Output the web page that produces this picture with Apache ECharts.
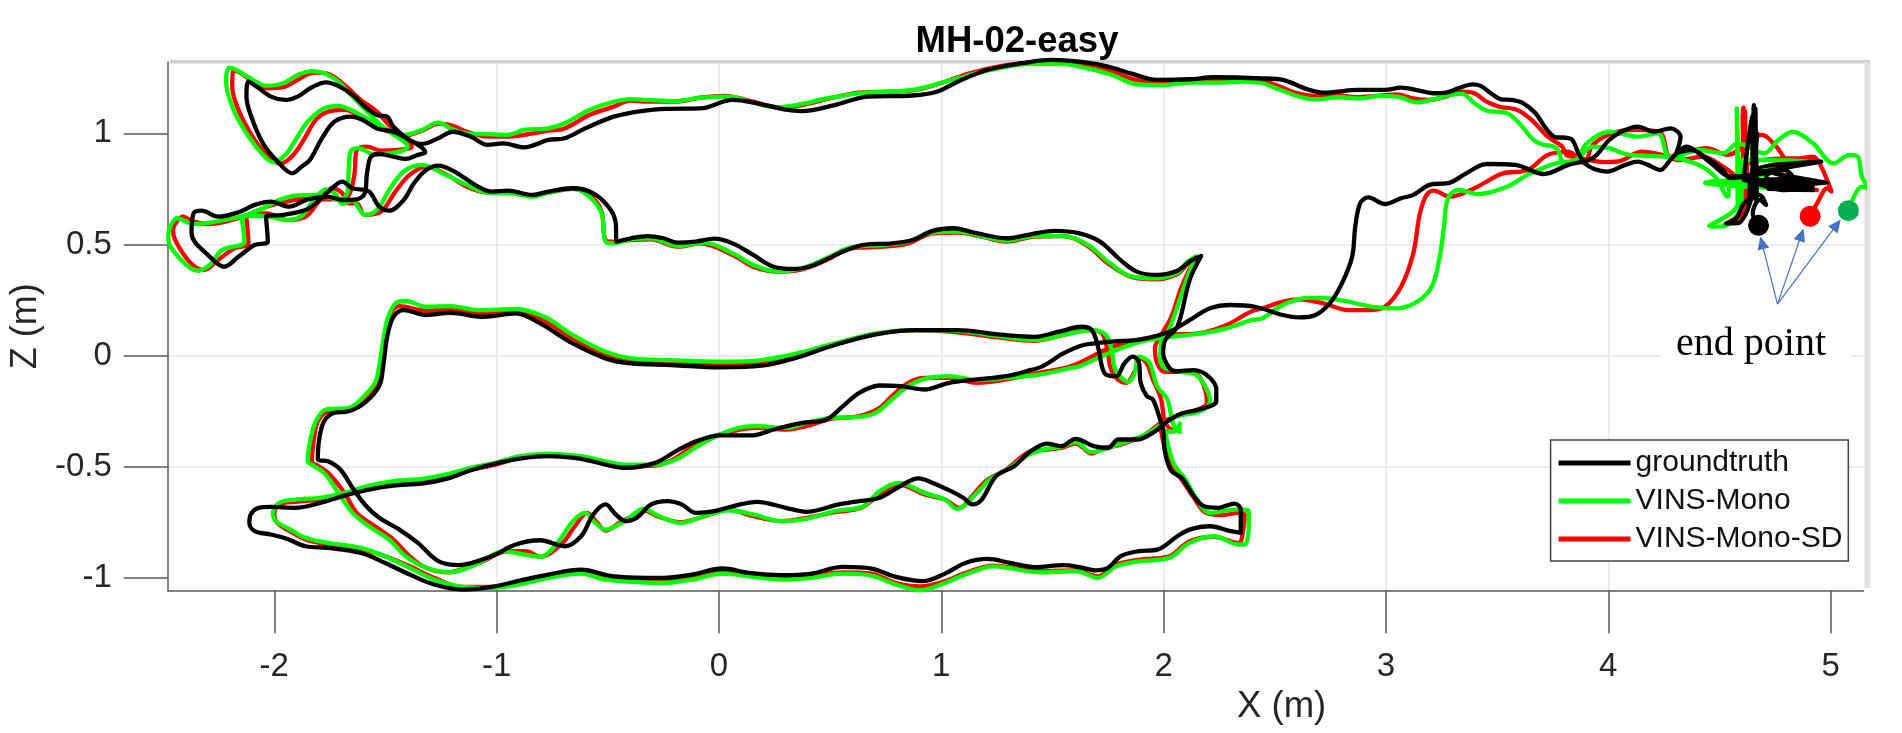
<!DOCTYPE html>
<html><head><meta charset="utf-8">
<style>html,body{margin:0;padding:0;background:#fff}#c{width:1902px;height:733px}</style>
<script src="https://cdn.jsdelivr.net/npm/echarts@6/dist/echarts.min.js"></script>
</head><body><div id="c"></div>
<script>
const xTicks=[-2,-1,0,1,2,3,4,5];
const zTicks=[-1,-0.5,0,0.5,1];
const seriesNames=['groundtruth','VINS-Mono','VINS-Mono-SD'];
const endX=[4.676,5.08,4.908];
const endZ=[0.586,0.652,0.627];
const arrowStart=[4.761,0.232];
const arrowEnds=[[4.691,0.508],[4.869,0.544],[5.028,0.589]];

const groundtruth=[[4.609,.79],[4.645,1.08],[4.65,.72],[4.655,1.127],[4.664,.70],[4.662,1.11],[4.668,.715],[4.652,1.12],[4.648,.72],[4.67,1.0],[4.646,.82],[4.958,.873],[4.673,.843],[4.985,.775],[4.7,.77],[4.98,.782],[4.609,.79],[4.921,.745],[4.72,.75],[4.9,.75],[4.646,.783],[4.829,.805],[4.793,.835],[4.70,.82],[4.554,.805],[4.462,.865],[4.407,.91],[4.352,.94],[4.316,.918],[4.279,.88],[4.233,.835],[4.178,.858],[4.132,.873],[4.077,.858],[3.994,.828],[3.94,.838],[3.894,.865],[3.866,.91],[3.839,.97],[3.811,.98],[3.765,.982],[3.72,1.022],[3.673,1.09],[3.618,1.135],[3.563,1.15],[3.517,1.153],[3.472,1.18],[3.426,1.213],[3.389,1.22],[3.325,1.202],[3.27,1.183],[3.215,1.18],[3.15,1.192],[3.068,1.205],[2.995,1.195],[2.875,1.195],[2.72,1.183],[2.647,1.198],[2.536,1.24],[2.444,1.247],[2.228,1.252],[2.117,1.243],[1.97,1.24],[1.861,1.267],[1.75,1.30],[1.622,1.322],[1.494,1.33],[1.365,1.315],[1.218,1.288],[1.09,1.24],[.98,1.187],[.87,1.17],[.668,1.165],[.521,1.127],[.374,1.10],[.292,1.108],[.172,1.135],[.062,1.15],[-.084,1.112],[-.231,1.11],[-.349,1.10],[-.473,1.075],[-.602,1.022],[-.694,.978],[-.767,.97],[-.877,.937],[-.969,.955],[-1.042,.948],[-1.116,.985],[-1.198,1.007],[-1.262,.978],[-1.336,.952],[-1.391,.97],[-1.464,1.03],[-1.492,1.075],[-1.538,1.082],[-1.593,1.12],[-1.648,1.172],[-1.712,1.213],[-1.767,1.229],[-1.831,1.207],[-1.895,1.165],[-1.95,1.15],[-2.015,1.165],[-2.079,1.21],[-2.116,1.232],[-2.125,1.165],[-2.106,1.082],[-2.051,.955],[-1.978,.865],[-1.919,.82],[-1.877,.85],[-1.84,.88],[-1.785,.978],[-1.73,1.052],[-1.657,1.075],[-1.602,1.06],[-1.538,1.022],[-1.464,1.007],[-1.391,.97],[-1.321,.915],[-1.354,.903],[-1.409,.885],[-1.464,.895],[-1.528,.907],[-1.565,.895],[-1.583,.82],[-1.593,.73],[-1.629,.703],[-1.694,.70],[-1.758,.715],[-1.85,.703],[-1.932,.67],[-2.015,.693],[-2.088,.678],[-2.161,.645],[-2.253,.625],[-2.327,.652],[-2.363,.64],[-2.372,.55],[-2.29,.445],[-2.226,.40],[-2.161,.445],[-2.088,.498],[-2.029,.513],[-2.037,.625],[-1.96,.633],[-1.859,.655],[-1.804,.693],[-1.749,.745],[-1.694,.783],[-1.648,.753],[-1.574,.738],[-1.528,.67],[-1.483,.652],[-1.418,.70],[-1.372,.775],[-1.317,.835],[-1.262,.855],[-1.189,.828],[-1.097,.768],[-1.024,.738],[-.95,.742],[-.84,.723],[-.767,.738],[-.657,.753],[-.565,.73],[-.492,.663],[-.464,.595],[-.461,.513],[-.396,.528],[-.323,.538],[-.25,.528],[-.186,.508],[-.103,.513],[-.02,.526],[.062,.505],[.154,.453],[.246,.40],[.338,.39],[.429,.408],[.539,.46],[.65,.498],[.778,.505],[.87,.52],[.961,.561],[1.053,.573],[1.163,.55],[1.292,.528],[1.402,.546],[1.512,.561],[1.622,.55],[1.714,.513],[1.806,.43],[1.879,.378],[1.971,.363],[2.062,.382],[2.117,.423],[2.169,.448],[2.117,.34],[2.062,.13],[2.007,.07],[1.998,.01],[2.026,-.055],[2.054,-.07],[2.136,-.065],[2.2,-.092],[2.237,-.152],[2.237,-.205],[2.173,-.239],[2.081,-.26],[2.007,-.302],[1.962,-.34],[1.879,-.377],[1.796,-.377],[1.75,-.415],[1.686,-.407],[1.604,-.374],[1.54,-.407],[1.475,-.395],[1.402,-.43],[1.328,-.497],[1.246,-.542],[1.182,-.647],[1.141,-.669],[1.099,-.639],[1.044,-.609],[.961,-.572],[.897,-.552],[.815,-.587],[.723,-.639],[.631,-.654],[.539,-.669],[.393,-.702],[.301,-.684],[.172,-.657],[.062,-.677],[-.02,-.699],[-.103,-.707],[-.167,-.669],[-.231,-.654],[-.305,-.669],[-.369,-.729],[-.418,-.744],[-.464,-.714],[-.51,-.669],[-.565,-.714],[-.62,-.812],[-.694,-.857],[-.804,-.83],[-.914,-.849],[-1.024,-.902],[-1.171,-.942],[-1.262,-.924],[-1.354,-.842],[-1.437,-.782],[-1.528,-.729],[-1.593,-.669],[-1.648,-.594],[-1.703,-.512],[-1.758,-.475],[-1.804,-.467],[-1.798,-.377],[-1.776,-.295],[-1.73,-.257],[-1.666,-.25],[-1.593,-.212],[-1.528,-.137],[-1.51,-.047],[-1.492,.085],[-1.464,.175],[-1.418,.205],[-1.317,.183],[-1.207,.193],[-1.061,.175],[-.914,.19],[-.804,.145],[-.657,.055],[-.51,-.012],[-.395,-.035],[-.213,-.042],[.007,-.052],[.191,-.045],[.338,-.012],[.521,.048],[.705,.096],[.888,.115],[1.072,.115],[1.255,.096],[1.42,.085],[1.53,.108],[1.631,.13],[1.677,.115],[1.705,.04],[1.723,-.05],[1.741,-.085],[1.787,-.092],[1.824,-.034],[1.861,-.004],[1.888,-.027],[1.897,-.122],[1.925,-.182],[1.952,-.197],[1.989,-.302],[1.998,-.332],[2.007,-.437],[2.035,-.519],[2.081,-.549],[2.136,-.632],[2.182,-.677],[2.246,-.684],[2.319,-.665],[2.347,-.692],[2.347,-.797],[2.301,-.789],[2.209,-.767],[2.117,-.782],[2.062,-.812],[1.971,-.872],[1.888,-.879],[1.806,-.902],[1.75,-.954],[1.695,-.965],[1.622,-.951],[1.549,-.942],[1.42,-.951],[1.31,-.932],[1.209,-.914],[1.108,-.932],[1.017,-.98],[.916,-1.014],[.796,-.995],[.686,-.957],[.558,-.95],[.411,-.981],[.283,-.987],[.136,-.977],[.017,-.957],[-.121,-.984],[-.25,-.999],[-.473,-.992],[-.62,-.962],[-.767,-.984],[-.877,-1.007],[-1.024,-1.04],[-1.152,-1.052],[-1.281,-1.029],[-1.391,-.984],[-1.501,-.932],[-1.611,-.887],[-1.758,-.864],[-1.859,-.857],[-1.941,-.824],[-2.015,-.804],[-2.088,-.789],[-2.112,-.752],[-2.106,-.714],[-2.07,-.684],[-2.015,-.68],[-1.905,-.684],[-1.794,-.662],[-1.684,-.629],[-1.574,-.602],[-1.464,-.584],[-1.336,-.575],[-1.226,-.554],[-1.116,-.515],[-1.006,-.485],[-.895,-.463],[-.767,-.452],[-.62,-.464],[-.51,-.49],[-.418,-.504],[-.286,-.482],[-.194,-.43],[-.103,-.385],[.007,-.358],[.154,-.358],[.246,-.332],[.374,-.302],[.484,-.287],[.558,-.227],[.631,-.167],[.723,-.134],[.815,-.137],[.925,-.152],[1.035,-.122],[1.163,-.107],[1.292,-.092],[1.383,-.07],[1.457,-.047],[1.549,.01],[1.64,.048],[1.769,.063],[1.897,.073],[2.026,.108],[2.117,.16],[2.209,.213],[2.301,.228],[2.411,.22],[2.536,.183],[2.609,.172],[2.683,.183],[2.747,.235],[2.802,.325],[2.848,.445],[2.862,.58],[2.884,.685],[2.921,.712],[2.995,.682],[3.068,.708],[3.123,.723],[3.196,.768],[3.288,.778],[3.361,.82],[3.453,.862],[3.582,.858],[3.71,.817],[3.82,.858],[3.93,.888],[4.004,.97],[4.059,1.007],[4.132,1.03],[4.206,1.007],[4.279,1.022],[4.325,.985],[4.306,.91],[4.371,.925],[4.444,.888],[4.517,.835],[4.546,.798],[4.77,.843],[4.71,.805],[4.92,.76],[4.784,.745],[4.636,.79],[4.636,.715],[4.605,.678],[4.576,.618],[4.531,.595],[4.583,.596],[4.62,.64],[4.65,.715],[4.68,.723],[4.71,.678],[4.68,.70],[4.65,.64],[4.672,.587]];

const vinsMono=[[4.582,.79],[4.578,1.112],[4.591,.685],[4.578,1.105],[4.582,.685],[4.453,.583],[4.508,.58],[4.6,.685],[4.6,.88],[4.903,.876],[4.646,.835],[4.811,.85],[4.646,.80],[4.435,.778],[4.738,.753],[4.884,.745],[4.554,.783],[4.536,.715],[4.481,.805],[4.389,.865],[4.251,.895],[4.169,.898],[4.077,.907],[4.004,.933],[3.93,.94],[3.857,.88],[3.802,.858],[3.774,.925],[3.747,.943],[3.71,.948],[3.664,.97],[3.6,1.045],[3.545,1.09],[3.453,1.102],[3.398,1.135],[3.343,1.177],[3.288,1.172],[3.215,1.153],[3.141,1.139],[3.05,1.165],[2.976,1.168],[2.884,1.157],[2.793,1.162],[2.683,1.153],[2.609,1.165],[2.517,1.198],[2.444,1.225],[2.356,1.232],[2.246,1.228],[2.136,1.228],[1.989,1.217],[1.879,1.22],[1.769,1.262],[1.659,1.292],[1.53,1.312],[1.402,1.312],[1.255,1.292],[1.127,1.262],[1.017,1.232],[.888,1.198],[.76,1.187],[.631,1.18],[.484,1.157],[.374,1.132],[.264,1.117],[.154,1.138],[.044,1.165],[-.084,1.16],[-.194,1.145],[-.323,1.15],[-.396,1.154],[-.473,1.142],[-.583,1.105],[-.694,1.045],[-.767,1.022],[-.877,1.015],[-.95,.993],[-1.042,.996],[-1.134,1.0],[-1.207,1.022],[-1.262,1.048],[-1.336,1.015],[-1.418,.993],[-1.501,1.022],[-1.574,1.09],[-1.648,1.165],[-1.721,1.24],[-1.776,1.27],[-1.831,1.28],[-1.895,1.262],[-1.96,1.225],[-2.033,1.213],[-2.106,1.247],[-2.171,1.285],[-2.202,1.295],[-2.217,1.24],[-2.189,1.12],[-2.125,1.0],[-2.051,.903],[-2.006,.87],[-1.95,.903],[-1.905,.97],[-1.85,1.052],[-1.776,1.112],[-1.712,1.123],[-1.648,1.102],[-1.574,1.06],[-1.483,1.007],[-1.4,.94],[-1.483,.91],[-1.556,.907],[-1.62,.933],[-1.657,.918],[-1.666,.82],[-1.67,.738],[-1.703,.70],[-1.813,.723],[-1.905,.72],[-1.978,.70],[-2.051,.663],[-2.143,.628],[-2.29,.598],[-2.363,.592],[-2.437,.618],[-2.473,.565],[-2.477,.528],[-2.418,.43],[-2.345,.382],[-2.29,.408],[-2.235,.475],[-2.134,.513],[-2.147,.625],[-2.051,.628],[-1.941,.61],[-1.877,.628],[-1.822,.70],[-1.767,.748],[-1.721,.723],[-1.694,.682],[-1.648,.70],[-1.62,.663],[-1.593,.633],[-1.538,.655],[-1.483,.745],[-1.418,.828],[-1.336,.858],[-1.244,.82],[-1.134,.768],[-1.042,.733],[-.932,.73],[-.84,.715],[-.767,.733],[-.657,.753],[-.583,.715],[-.528,.64],[-.51,.513],[-.473,.505],[-.396,.523],[-.305,.528],[-.185,.493],[-.066,.508],[.062,.46],[.154,.408],[.264,.378],[.374,.393],[.484,.438],[.594,.487],[.741,.498],[.851,.513],[.961,.555],[1.072,.558],[1.182,.538],[1.292,.517],[1.42,.538],[1.549,.538],[1.659,.498],[1.75,.423],[1.851,.358],[1.971,.348],[2.062,.373],[2.108,.423],[2.145,.445],[2.108,.355],[2.062,.22],[2.026,.123],[1.989,.055],[1.985,-.012],[1.998,-.05],[2.026,-.062],[2.081,-.074],[2.145,-.085],[2.191,-.145],[2.209,-.205],[2.163,-.25],[2.062,-.272],[1.989,-.31],[1.916,-.355],[1.806,-.395],[1.732,-.422],[1.677,-.434],[1.604,-.389],[1.54,-.41],[1.475,-.419],[1.393,-.445],[1.31,-.504],[1.218,-.557],[1.154,-.624],[1.072,-.689],[1.017,-.647],[.925,-.617],[.806,-.572],[.723,-.609],[.65,-.677],[.521,-.699],[.393,-.734],[.283,-.744],[.154,-.714],[.044,-.695],[-.066,-.722],[-.176,-.752],[-.268,-.722],[-.341,-.689],[-.354,-.692],[-.437,-.752],[-.51,-.782],[-.556,-.752],[-.602,-.707],[-.657,-.744],[-.721,-.834],[-.804,-.905],[-.877,-.894],[-.969,-.879],[-1.079,-.932],[-1.207,-.974],[-1.317,-.954],[-1.409,-.902],[-1.483,-.827],[-1.574,-.767],[-1.648,-.707],[-1.712,-.617],[-1.776,-.527],[-1.831,-.49],[-1.85,-.475],[-1.84,-.392],[-1.813,-.295],[-1.767,-.242],[-1.666,-.235],[-1.611,-.197],[-1.547,-.122],[-1.528,-.047],[-1.519,.01],[-1.492,.16],[-1.455,.235],[-1.409,.246],[-1.317,.22],[-1.207,.223],[-1.079,.205],[-.914,.21],[-.785,.175],[-.657,.093],[-.51,.018],[-.395,-.012],[-.213,-.02],[.007,-.027],[.191,-.02],[.338,.007],[.521,.055],[.705,.10],[.888,.115],[1.072,.112],[1.255,.088],[1.42,.07],[1.549,.093],[1.677,.115],[1.741,.093],[1.769,.01],[1.778,-.05],[1.796,-.085],[1.842,-.119],[1.87,-.077],[1.888,-.004],[1.934,-.027],[1.971,-.137],[2.017,-.197],[2.044,-.31],[2.072,-.343],[2.072,-.305],[2.053,-.34],[2.007,-.34],[2.044,-.482],[2.099,-.557],[2.145,-.639],[2.209,-.707],[2.319,-.692],[2.383,-.699],[2.383,-.767],[2.365,-.849],[2.338,-.849],[2.228,-.812],[2.117,-.842],[2.026,-.909],[1.897,-.924],[1.787,-.947],[1.705,-.999],[1.604,-.969],[1.439,-.974],[1.237,-.947],[1.108,-.984],[1.017,-1.022],[.906,-1.055],[.796,-1.029],[.686,-.989],[.558,-.98],[.411,-.999],[.283,-1.007],[.136,-.992],[.017,-.98],[-.121,-1.007],[-.25,-1.022],[-.51,-1.007],[-.62,-.98],[-.767,-.999],[-.877,-1.025],[-1.024,-1.044],[-1.152,-1.04],[-1.281,-1.007],[-1.391,-.954],[-1.501,-.902],[-1.611,-.864],[-1.758,-.842],[-1.859,-.819],[-1.941,-.774],[-1.993,-.744],[-2.006,-.707],[-1.978,-.662],[-1.905,-.647],[-1.794,-.639],[-1.684,-.617],[-1.574,-.584],[-1.464,-.564],[-1.336,-.554],[-1.226,-.534],[-1.116,-.504],[-1.006,-.482],[-.895,-.452],[-.767,-.44],[-.62,-.452],[-.51,-.475],[-.418,-.49],[-.286,-.49],[-.194,-.467],[-.084,-.4],[.062,-.332],[.172,-.317],[.301,-.325],[.393,-.302],[.503,-.28],[.631,-.275],[.705,-.257],[.778,-.197],[.851,-.137],[.925,-.104],[1.035,-.092],[1.163,-.11],[1.292,-.10],[1.439,-.085],[1.585,-.055],[1.622,-.047],[1.769,.018],[1.897,.063],[2.007,.082],[2.172,.10],[2.283,.123],[2.393,.16],[2.444,.168],[2.536,.228],[2.646,.26],[2.738,.258],[2.829,.243],[2.94,.22],[3.05,.213],[3.141,.243],[3.206,.31],[3.242,.445],[3.261,.58],[3.279,.708],[3.325,.745],[3.417,.726],[3.545,.76],[3.637,.813],[3.765,.865],[3.857,.883],[3.903,.955],[4.004,1.007],[4.132,.985],[4.224,1.0],[4.261,.91],[4.279,.888],[4.407,.925],[4.517,.91],[4.582,.955],[4.701,.91],[4.765,.97],[4.829,1.007],[4.921,.955],[5.013,.865],[5.086,.903],[5.123,.895],[5.141,.805],[5.178,.745],[5.141,.76],[5.08,.652]];

const vinsMonoSD=[[4.609,.79],[4.604,1.08],[4.61,.70],[4.609,1.117],[4.618,.685],[4.615,1.1],[4.606,.72],[4.606,1.112],[4.628,.70],[4.517,.583],[4.591,.625],[4.618,.70],[4.628,.865],[4.921,.888],[4.701,.843],[4.939,.775],[4.646,.783],[4.462,.783],[4.829,.753],[4.939,.745],[4.609,.79],[4.517,.85],[4.426,.895],[4.316,.88],[4.242,.903],[4.15,.918],[4.059,.877],[3.994,.87],[3.912,.88],[3.839,.895],[3.811,.903],[3.793,.94],[3.728,.985],[3.655,1.06],[3.591,1.105],[3.508,1.12],[3.453,1.142],[3.398,1.18],[3.343,1.187],[3.27,1.165],[3.196,1.15],[3.123,1.157],[3.05,1.175],[2.958,1.168],[2.866,1.162],[2.774,1.172],[2.683,1.168],[2.591,1.183],[2.517,1.213],[2.444,1.235],[2.356,1.24],[2.246,1.235],[2.136,1.235],[1.989,1.228],[1.879,1.24],[1.769,1.277],[1.659,1.304],[1.53,1.322],[1.402,1.319],[1.255,1.30],[1.127,1.27],[1.017,1.232],[.888,1.195],[.76,1.187],[.631,1.183],[.484,1.153],[.374,1.127],[.264,1.117],[.154,1.142],[.026,1.168],[-.084,1.16],[-.194,1.142],[-.323,1.142],[-.396,1.147],[-.473,1.12],[-.583,1.082],[-.694,1.022],[-.767,1.012],[-.877,.993],[-.95,.985],[-1.042,.985],[-1.134,1.007],[-1.207,1.037],[-1.262,1.042],[-1.336,1.012],[-1.418,.988],[-1.483,1.037],[-1.538,1.097],[-1.611,1.15],[-1.684,1.217],[-1.758,1.267],[-1.822,1.273],[-1.895,1.24],[-1.96,1.207],[-2.033,1.202],[-2.106,1.24],[-2.161,1.277],[-2.183,1.282],[-2.189,1.21],[-2.161,1.105],[-2.088,.97],[-2.015,.883],[-1.969,.865],[-1.914,.903],[-1.868,.97],[-1.813,1.06],[-1.758,1.097],[-1.684,1.105],[-1.611,1.075],[-1.528,1.022],[-1.446,.993],[-1.382,.94],[-1.446,.925],[-1.519,.922],[-1.583,.94],[-1.629,.925],[-1.639,.82],[-1.657,.738],[-1.684,.703],[-1.758,.703],[-1.85,.708],[-1.941,.693],[-2.033,.67],[-2.143,.625],[-2.29,.592],[-2.363,.603],[-2.409,.625],[-2.455,.565],[-2.446,.52],[-2.382,.423],[-2.317,.385],[-2.253,.43],[-2.18,.483],[-2.116,.505],[-2.125,.625],[-2.033,.64],[-1.941,.61],[-1.859,.625],[-1.794,.70],[-1.739,.753],[-1.694,.73],[-1.67,.685],[-1.629,.685],[-1.593,.633],[-1.519,.648],[-1.455,.738],[-1.391,.813],[-1.317,.85],[-1.235,.82],[-1.134,.76],[-1.042,.733],[-.932,.738],[-.84,.72],[-.767,.733],[-.657,.75],[-.574,.715],[-.528,.648],[-.51,.52],[-.473,.513],[-.396,.52],[-.305,.523],[-.185,.49],[-.084,.505],[.062,.453],[.154,.40],[.264,.378],[.374,.388],[.484,.43],[.594,.483],[.741,.49],[.851,.505],[.961,.55],[1.072,.553],[1.182,.535],[1.292,.513],[1.42,.535],[1.549,.538],[1.659,.493],[1.75,.415],[1.851,.355],[1.961,.343],[2.062,.367],[2.108,.415],[2.145,.445],[2.081,.31],[2.035,.175],[1.989,.093],[1.961,.033],[1.971,-.035],[2.007,-.073],[2.081,-.073],[2.145,-.08],[2.182,-.137],[2.195,-.212],[2.154,-.242],[2.062,-.269],[1.989,-.302],[1.916,-.355],[1.806,-.4],[1.732,-.415],[1.677,-.44],[1.604,-.395],[1.54,-.415],[1.475,-.422],[1.393,-.434],[1.292,-.512],[1.2,-.564],[1.145,-.624],[1.081,-.684],[1.017,-.647],[.925,-.624],[.806,-.579],[.723,-.624],[.64,-.684],[.521,-.704],[.393,-.729],[.283,-.744],[.154,-.722],[.044,-.692],[-.066,-.722],[-.176,-.749],[-.268,-.725],[-.341,-.695],[-.354,-.707],[-.437,-.744],[-.51,-.786],[-.547,-.752],[-.593,-.707],[-.648,-.767],[-.703,-.842],[-.804,-.905],[-.868,-.879],[-.95,-.879],[-1.079,-.932],[-1.226,-.974],[-1.317,-.954],[-1.391,-.902],[-1.464,-.827],[-1.547,-.767],[-1.629,-.707],[-1.684,-.617],[-1.758,-.527],[-1.813,-.49],[-1.831,-.482],[-1.822,-.377],[-1.804,-.295],[-1.758,-.25],[-1.666,-.239],[-1.602,-.205],[-1.538,-.13],[-1.519,-.047],[-1.505,.055],[-1.483,.175],[-1.437,.223],[-1.317,.202],[-1.207,.208],[-1.079,.19],[-.914,.198],[-.794,.16],[-.657,.078],[-.51,.003],[-.395,-.027],[-.213,-.034],[.007,-.042],[.191,-.034],[.338,-.004],[.521,.051],[.705,.097],[.888,.115],[1.072,.105],[1.255,.082],[1.42,.067],[1.549,.093],[1.659,.115],[1.723,.10],[1.75,.01],[1.76,-.05],[1.787,-.10],[1.833,-.122],[1.87,-.07],[1.897,-.012],[1.925,-.035],[1.952,-.107],[1.989,-.197],[2.007,-.302],[2.044,-.34],[1.989,-.34],[2.026,-.482],[2.081,-.557],[2.136,-.639],[2.191,-.707],[2.264,-.717],[2.338,-.707],[2.365,-.714],[2.356,-.797],[2.338,-.842],[2.228,-.815],[2.117,-.834],[2.026,-.902],[1.897,-.917],[1.787,-.939],[1.705,-.992],[1.604,-.965],[1.439,-.969],[1.237,-.944],[1.108,-.977],[1.017,-1.014],[.906,-1.037],[.796,-1.022],[.686,-.98],[.558,-.974],[.411,-.992],[.283,-.999],[.136,-.984],[.017,-.974],[-.121,-.999],[-.25,-1.014],[-.51,-.999],[-.62,-.977],[-.767,-.992],[-.877,-1.019],[-1.024,-1.04],[-1.152,-1.04],[-1.281,-.999],[-1.391,-.947],[-1.501,-.902],[-1.611,-.869],[-1.758,-.849],[-1.859,-.827],[-1.941,-.782],[-1.987,-.752],[-2.0,-.714],[-1.978,-.669],[-1.905,-.657],[-1.794,-.647],[-1.684,-.621],[-1.574,-.59],[-1.464,-.569],[-1.336,-.56],[-1.226,-.539],[-1.116,-.512],[-1.006,-.49],[-.895,-.46],[-.767,-.449],[-.62,-.46],[-.51,-.482],[-.418,-.497],[-.286,-.494],[-.194,-.46],[-.084,-.385],[.062,-.34],[.172,-.325],[.301,-.332],[.393,-.317],[.503,-.284],[.631,-.272],[.723,-.235],[.778,-.182],[.851,-.122],[.925,-.10],[1.035,-.10],[1.163,-.122],[1.292,-.107],[1.439,-.077],[1.585,-.047],[1.769,.04],[1.897,.073],[2.007,.093],[2.172,.103],[2.283,.138],[2.393,.198],[2.444,.213],[2.536,.243],[2.609,.253],[2.719,.235],[2.829,.205],[2.921,.205],[2.995,.22],[3.068,.31],[3.123,.46],[3.15,.625],[3.178,.715],[3.215,.742],[3.288,.715],[3.398,.753],[3.453,.783],[3.527,.82],[3.637,.835],[3.728,.903],[3.82,.918],[3.894,.865],[3.93,.948],[4.04,1.007],[4.132,1.015],[4.233,1.004],[4.279,.895],[4.389,.925],[4.444,.933],[4.536,.903],[4.692,.993],[4.756,.94],[4.811,.88],[4.921,.895],[4.958,.85],[5.004,.738],[4.985,.753],[4.939,.685],[4.908,.627]];

const lineColors=['#000000','#00FF00','#FF0000'];
const dotColors=['#000000','#00B050','#FF0000'];
const axisText='#262626';
const chart=echarts.init(document.getElementById('c'),null,{renderer:'canvas'});
function pathSeries(name,data,color,z){
  return {name,type:'line',data,z,smooth:0.35,showSymbol:false,symbol:'none',clip:false,animation:false,silent:true,
    itemStyle:{color},lineStyle:{color,width:4.3,cap:'round',join:'round'}};
}
const axisCommon={
  axisLine:{show:true,onZero:false,lineStyle:{color:'#5a5a5a',width:1.5}},
  splitLine:{show:true,showMinLine:false,showMaxLine:false,lineStyle:{color:'#e6e6e6',width:1.5}}
};
chart.setOption({
  animation:false,backgroundColor:'#fff',
  title:{text:'MH-02-easy',left:1012,top:18,textAlign:'center',textStyle:{fontFamily:'Liberation Sans',fontWeight:'bold',fontSize:36.5,color:'#000'}},
  grid:{left:165.5,top:62,width:1698,height:528.3,containLabel:false},
  legend:{data:seriesNames,orient:'vertical',left:1550.6,top:440,padding:[8,6,7,8],itemGap:8,icon:'rect',itemWidth:72,itemHeight:5,
    backgroundColor:'#fff',borderColor:'#444',borderWidth:1.5,borderRadius:0,selectedMode:false,z:6,
    textStyle:{fontFamily:'Liberation Sans',fontSize:30,color:'#111',lineHeight:30}},
  xAxis:{type:'value',min:-2.479,max:5.148,minInterval:1,maxInterval:1,name:'X (m)',nameLocation:'middle',nameGap:87,
    nameTextStyle:{fontFamily:'Liberation Sans',fontSize:36.5,color:axisText,padding:[0,0,0,532]},
    axisTick:{show:true,length:43,inside:false,customValues:xTicks,lineStyle:{color:'#5a5a5a',width:1.5}},
    axisLabel:{customValues:xTicks,margin:60,fontFamily:'Liberation Sans',fontSize:33,color:axisText},...axisCommon},
  yAxis:{type:'value',min:-1.055,max:1.3206,minInterval:0.5,maxInterval:0.5,name:'Z (m)',nameLocation:'middle',nameGap:116,
    nameTextStyle:{fontFamily:'Liberation Sans',fontSize:36,color:axisText},
    axisTick:{show:true,length:44,inside:false,customValues:zTicks,lineStyle:{color:'#5a5a5a',width:1.5}},
    axisLabel:{customValues:zTicks,margin:56,fontFamily:'Liberation Sans',fontSize:33,color:axisText},...axisCommon},
  graphic:[
    {type:'rect',z:1,silent:true,shape:{x:170,y:60,width:1700,height:3.5},style:{fill:'#cfcfcf'}},
    {type:'rect',z:1,silent:true,shape:{x:1864.5,y:62,width:6,height:526},style:{fill:'#e0e0e0'}},
    {type:'rect',z:1,silent:true,shape:{x:1661,y:313,width:190,height:61},style:{fill:'#fff'}},
    {type:'text',z:7,silent:true,style:{text:'end point',x:1751,y:364,textAlign:'center',textVerticalAlign:'bottom',font:'40px "Liberation Serif"',fill:'#000'}}
  ],
  series:[
    pathSeries(seriesNames[2],vinsMonoSD,lineColors[2],3),
    pathSeries(seriesNames[1],vinsMono,lineColors[1],4),
    pathSeries(seriesNames[0],groundtruth,lineColors[0],5),
    {type:'scatter',z:6,symbol:'circle',symbolSize:21,clip:false,silent:true,
      data:endX.map((x,i)=>({value:[x,endZ[i]],itemStyle:{color:dotColors[i],opacity:1}}))},
    {type:'line',z:6,data:[],silent:true,markLine:{silent:true,animation:false,symbol:['none','triangle'],symbolSize:[12,13],label:{show:false},
      lineStyle:{color:'#4472C4',width:1.2,type:'solid'},
      data:arrowEnds.map(e=>[{coord:arrowStart},{coord:e}])}}
  ]
});
</script></body></html>
